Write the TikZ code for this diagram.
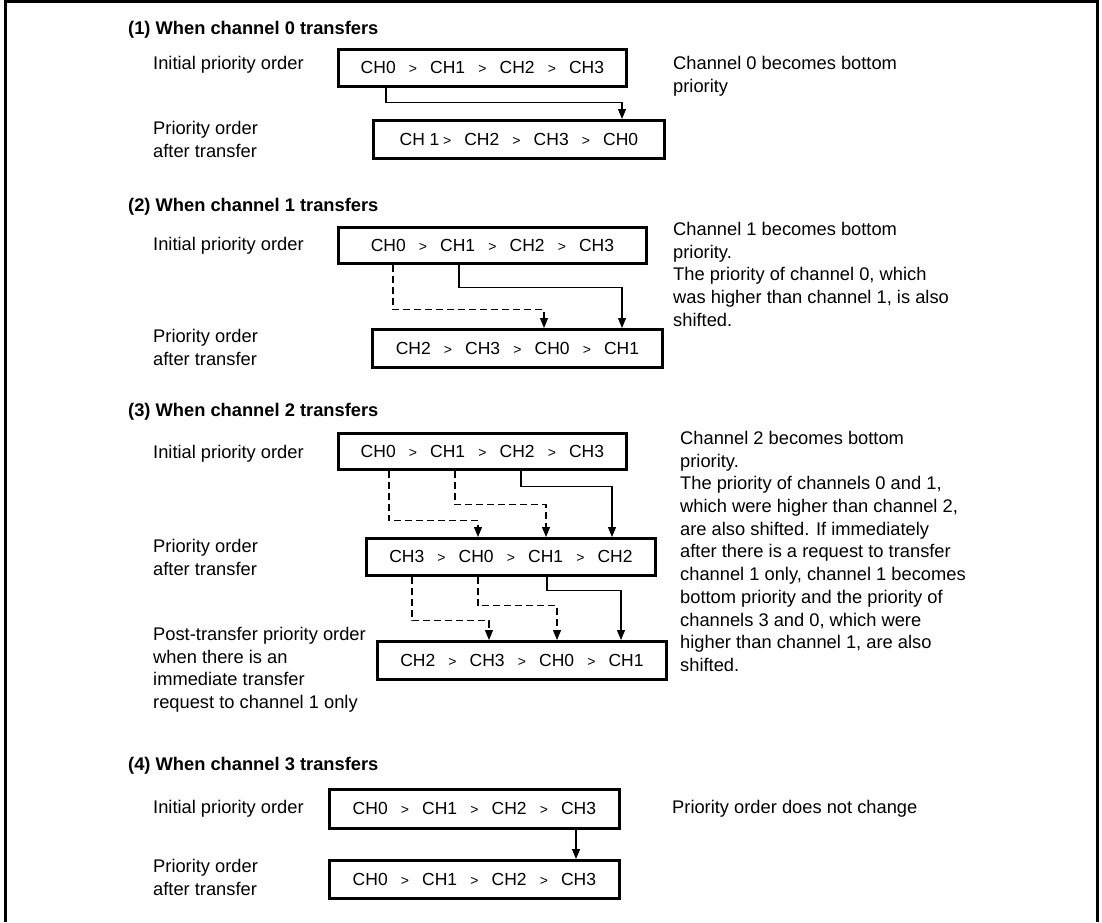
\documentclass[tikz,border=0pt]{standalone}
\usepackage{fontspec}
\setmainfont{Liberation Sans}
\usetikzlibrary{arrows.meta}

\newcommand\lblfont{\fontsize{18.3}{22.7}\selectfont}
\newcommand\ttlfont{\bfseries\fontsize{18.3}{22.7}\selectfont}
\newcommand\boxfont{\fontsize{17.5}{20}\selectfont}
\newcommand\chsep{\hspace{0.75em}{\fontsize{14}{14}\selectfont >}\hspace{0.75em}}

\begin{document}
\begin{tikzpicture}[x=1pt,y=-1pt,
  prio/.style={draw, line width=2.8pt, minimum height=37pt, inner sep=0pt, anchor=north west, font=\boxfont},
  lbl/.style={anchor=north west, inner sep=0pt, align=left, font=\lblfont},
  ttl/.style={anchor=north west, inner sep=0pt, font=\ttlfont},
  moved/.style={-{Triangle[length=10pt,width=8pt]}, line width=1.1pt},
  shifted/.style={moved, dash pattern=on 7pt off 4pt}]
  \useasboundingbox (0,0) rectangle (1102,922);
  \draw[line width=3pt] (5,922) -- (5,1.5) -- (1097,1.5) -- (1097,922);

  % (1) channel 0
  \node[ttl] (t1) at (128,21) {(1) When channel 0 transfers};
  \node[lbl] (l1a) at (153,56) {Initial priority order};
  \node[lbl] (l1b) at (153,121) {Priority order\\after transfer};
  \node[prio, minimum width=288pt] (a1) at (337,48) {CH0\chsep CH1\chsep CH2\chsep CH3};
  \node[prio, minimum width=291pt, minimum height=38pt] (b1) at (372,119) {CH 1\hspace{0.2em}{\fontsize{14}{14}\selectfont >}\hspace{0.75em}CH2\chsep CH3\chsep CH0};
  \node[lbl] (r1) at (673,56) {Channel 0 becomes bottom\\priority};
  \draw[moved] ([xshift=49pt]a1.south west) -- ++(0,15) -| ([xshift=250pt]b1.north west);

  % (2) channel 1
  \node[ttl] (t2) at (128,198) {(2) When channel 1 transfers};
  \node[lbl] (l2a) at (153,237) {Initial priority order};
  \node[lbl] (l2b) at (153,329) {Priority order\\after transfer};
  \node[prio, minimum width=308pt, minimum height=36pt] (a2) at (337,226) {CH0\chsep CH1\chsep CH2\chsep CH3};
  \node[prio, minimum width=290pt, minimum height=38pt] (b2) at (371,328) {CH2\chsep CH3\chsep CH0\chsep CH1};
  \node[lbl] (r2) at (673,222) {Channel 1 becomes bottom\\priority.\\The priority of channel 0, which\\was higher than channel 1, is also\\shifted.};
  \draw[shifted] ([xshift=56pt]a2.south west) -- ++(0,45) -| ([xshift=173pt]b2.north west);
  \draw[moved] ([xshift=122pt]a2.south west) -- ++(0,23) -| ([xshift=251pt]b2.north west);

  % (3) channel 2
  \node[ttl] (t3) at (128,403) {(3) When channel 2 transfers};
  \node[lbl] (l3a) at (153,445) {Initial priority order};
  \node[lbl] (l3b) at (153,539) {Priority order\\after transfer};
  \node[lbl] (l3c) at (153,627) {Post-transfer priority order\\when there is an\\immediate transfer\\request to channel 1 only};
  \node[prio, minimum width=288pt, minimum height=36pt] (a3) at (337,432) {CH0\chsep CH1\chsep CH2\chsep CH3};
  \node[prio, minimum width=289pt] (b3) at (365,537) {CH3\chsep CH0\chsep CH1\chsep CH2};
  \node[prio, minimum width=289pt, minimum height=38pt] (c3) at (376,640) {CH2\chsep CH3\chsep CH0\chsep CH1};
  \node[lbl] (r3) at (680,431) {Channel 2 becomes bottom\\priority.\\The priority of channels 0 and 1,\\which were higher than channel 2,\\are also shifted. If immediately\\after there is a request to transfer\\channel 1 only, channel 1 becomes\\bottom priority and the priority of\\channels 3 and 0, which were\\higher than channel 1, are also\\shifted.};
  \draw[shifted] ([xshift=52pt]a3.south west) -- ++(0,50) -| ([xshift=113pt]b3.north west);
  \draw[shifted] ([xshift=118pt]a3.south west) -- ++(0,34) -| ([xshift=181pt]b3.north west);
  \draw[moved] ([xshift=184pt]a3.south west) -- ++(0,16) -| ([xshift=247pt]b3.north west);
  \draw[shifted] ([xshift=47pt]b3.south west) -- ++(0,44) -| ([xshift=113pt]c3.north west);
  \draw[shifted] ([xshift=113pt]b3.south west) -- ++(0,29) -| ([xshift=181pt]c3.north west);
  \draw[moved] ([xshift=182pt]b3.south west) -- ++(0,14) -| ([xshift=245pt]c3.north west);

  % (4) channel 3
  \node[ttl] (t4) at (128,757) {(4) When channel 3 transfers};
  \node[lbl] (l4a) at (153,800) {Initial priority order};
  \node[lbl] (l4b) at (153,859) {Priority order\\after transfer};
  \node[prio, minimum width=290pt, minimum height=39pt] (a4) at (328,788) {CH0\chsep CH1\chsep CH2\chsep CH3};
  \node[prio, minimum width=290pt, minimum height=38pt] (b4) at (328,859) {CH0\chsep CH1\chsep CH2\chsep CH3};
  \node[lbl] (r4) at (672,800) {Priority order does not change};
  \draw[moved] ([xshift=248pt]a4.south west) -- ([xshift=248pt]b4.north west);
\end{tikzpicture}
\end{document}
